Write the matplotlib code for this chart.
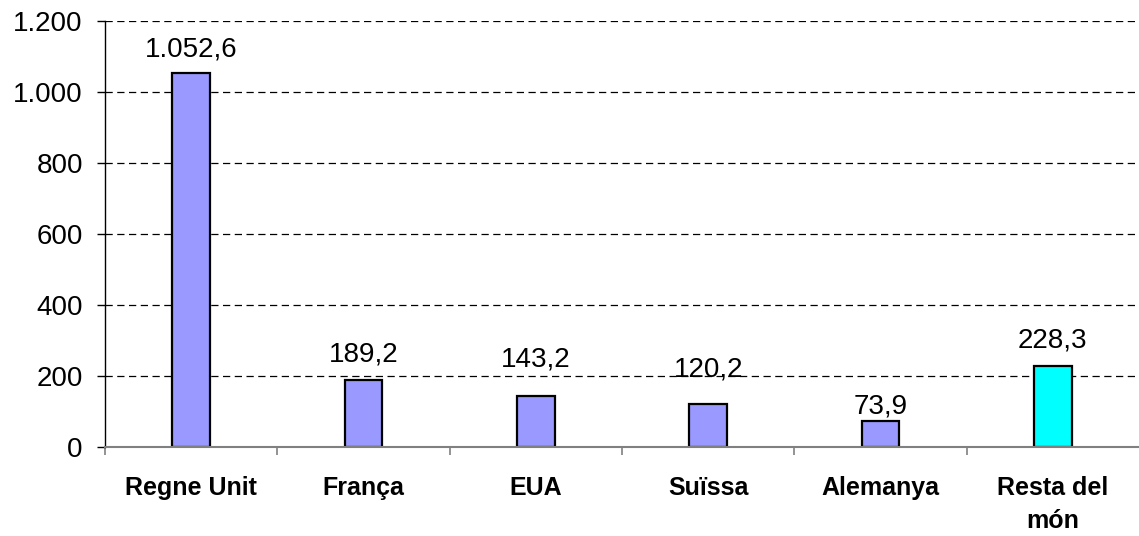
import matplotlib
matplotlib.use("Agg")
import matplotlib.pyplot as plt
from matplotlib.ticker import FixedLocator, FuncFormatter

categories = ["Regne Unit", "França", "EUA", "Suïssa", "Alemanya", "Resta del\nmón"]
values = [1052.6, 189.2, 143.2, 120.2, 73.9, 228.3]
colors = ["#9999FF"] * 5 + ["#00FFFF"]
yticks = [0, 200, 400, 600, 800, 1000, 1200]
# vertical gap (points) between bar top and its value label, as in the original layout
label_gaps = [12, 13, 21.5, 20, 5.5, 13.5]

plt.rcParams['font.family'] = ['Liberation Sans', 'DejaVu Sans']

def fmt_num(v, dec=1):
    s = f"{v:,.{dec}f}"
    return s.replace(",", "X").replace(".", ",").replace("X", ".")

fig = plt.figure(figsize=(11.39, 5.36), dpi=100)
ax = fig.add_axes([0.0922, 0.166, 0.9078, 0.795])

x = list(range(len(categories)))
ax.bar(x, values, width=0.22, color=colors, edgecolor="black", linewidth=1.6, zorder=3)

for xi, v, g in zip(x, values, label_gaps):
    ax.annotate(fmt_num(v), (xi, v), xytext=(0, g), textcoords="offset points",
                ha="center", va="baseline", fontsize=20)

ax.set_xlim(-0.5, len(categories) - 0.5)
ax.set_ylim(0, 1200)
ax.set_yticks(yticks)
ax.yaxis.set_major_formatter(FuncFormatter(lambda v, p: fmt_num(v, 0)))
ax.tick_params(axis="y", labelsize=20, length=6, width=1, direction="out", pad=10)

ax.xaxis.set_major_locator(FixedLocator([i - 0.5 for i in range(len(categories))]))
ax.xaxis.set_major_formatter(FuncFormatter(lambda v, p: ""))
ax.xaxis.set_minor_locator(FixedLocator(x))
ax.set_xticklabels(categories, minor=True)
ax.tick_params(axis="x", which="major", length=6, width=1.2, color="#808080", direction="out")
ax.tick_params(axis="x", which="minor", length=0, pad=21, labelsize=18)
for lbl in ax.get_xticklabels(minor=True):
    lbl.set_fontweight("bold")
    lbl.set_linespacing(1.45)

ax.grid(axis="y", color="black", linestyle=(0, (5.8, 3.6)), linewidth=0.9, zorder=0)
ax.spines["top"].set_visible(False)
ax.spines["right"].set_visible(False)
ax.spines["left"].set_color("black")
ax.spines["left"].set_linewidth(1)
ax.spines["bottom"].set_color("#808080")
ax.spines["bottom"].set_linewidth(1.5)
ax.spines["bottom"].set_zorder(4)

fig.savefig("out.png", dpi=100)
